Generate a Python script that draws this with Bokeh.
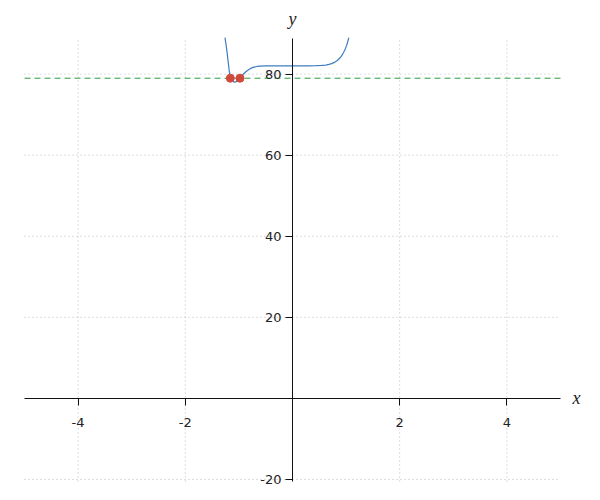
from bokeh.plotting import figure
from bokeh.models import FixedTicker, LinearAxis, Range1d, PrintfTickFormatter, Grid
from bokeh.core.properties import value
from bokeh.embed import file_html
from bokeh.resources import INLINE

x_min, x_max = -5, 5
y_min, y_max = -20.5, 88.8
x_ticks = [-4, -2, 2, 4]
y_ticks = [-20, 20, 40, 60, 80]

curve_x = [-1.26, -1.24, -1.22, -1.20, -1.18, -1.16, -1.13, -1.10, -1.08, -1.05, -1.02, -0.99,
           -0.95, -0.91, -0.87, -0.82, -0.77, -0.72, -0.66, -0.60, -0.50, -0.40, -0.30, -0.15,
           0.0, 0.15, 0.30, 0.45, 0.55, 0.62, 0.68, 0.73, 0.78, 0.83, 0.87, 0.91, 0.95, 0.98,
           1.01, 1.03, 1.05]
curve_y = [89.0, 87.3, 85.3, 83.0, 80.8, 79.2, 78.4, 78.1, 78.05, 78.15, 78.45, 78.9,
           79.5, 80.1, 80.6, 81.1, 81.5, 81.75, 81.9, 82.0, 82.05, 82.05, 82.05, 82.05,
           82.05, 82.05, 82.05, 82.1, 82.15, 82.25, 82.4, 82.6, 82.9, 83.3, 83.8, 84.4,
           85.3, 86.1, 87.1, 88.0, 89.0]

hline_y = 79
roots_x = [-1.16, -0.98]
roots_y = [79, 79]

axis_labels = ["x", "y"]
axis_label_x = [5.3, 0.0]
axis_label_y = [0.0, 93.7]

# view ranges padded so that the axis names fit inside the frame
W, H = 584, 496
px_x = 536 / (x_max - x_min)
px_y = 443 / (y_max - y_min)
p = figure(width=W, height=H,
           x_range=Range1d(x_min - 24 / px_x, x_max + 24 / px_x),
           y_range=Range1d(y_min - 15 / px_y, y_max + 38 / px_y),
           output_backend="svg", toolbar_location=None,
           x_axis_location=None, y_axis_location=None)
p.min_border = 0
p.frame_width = W
p.frame_height = H
p.outline_line_color = None
p.center = [r for r in p.center if not isinstance(r, Grid)]

# dotted grid lines at the tick positions, limited to the axes' extent
grid_style = dict(line_color="#bbbbbb", line_dash="1 3", line_width=1)
p.segment(x0=x_ticks, x1=x_ticks, y0=[y_min] * len(x_ticks), y1=[y_max] * len(x_ticks), **grid_style)
p.segment(x0=[x_min] * len(y_ticks), x1=[x_max] * len(y_ticks), y0=y_ticks, y1=y_ticks, **grid_style)

xaxis = LinearAxis(fixed_location=0, ticker=FixedTicker(ticks=x_ticks), bounds=(x_min, x_max))
yaxis = LinearAxis(fixed_location=0, ticker=FixedTicker(ticks=y_ticks), bounds=(y_min, y_max))
for ax in (xaxis, yaxis):
    ax.formatter = PrintfTickFormatter(format="%d")
    ax.minor_tick_line_color = None
    ax.major_tick_in = 0
    ax.major_tick_out = 7
    ax.axis_line_color = "#111111"
    ax.major_tick_line_color = "#111111"
    ax.major_label_text_font = "DejaVu Sans"
    ax.major_label_text_font_size = "13px"
    ax.major_label_text_color = "#222222"
xaxis.major_label_standoff = 13
yaxis.major_label_standoff = 4
p.add_layout(xaxis, "below")
p.add_layout(yaxis, "left")

p.segment(x0=[x_min], x1=[x_max], y0=[hline_y], y1=[hline_y], line_color="#2e9e3e",
          line_dash="6 4", line_width=1)

p.line(curve_x, curve_y, line_color="#3d7ebf", line_width=1.2)
p.scatter(roots_x, roots_y, size=8, fill_color="#cf4a3a", line_color="#cf4a3a")

p.text(axis_label_x, axis_label_y, text=axis_labels, text_font=value("Liberation Serif"),
       text_font_style="italic", text_font_size="18px", text_align="center",
       text_baseline="middle", text_color="#222222")

open("out.html", "w").write(file_html(p, INLINE))
